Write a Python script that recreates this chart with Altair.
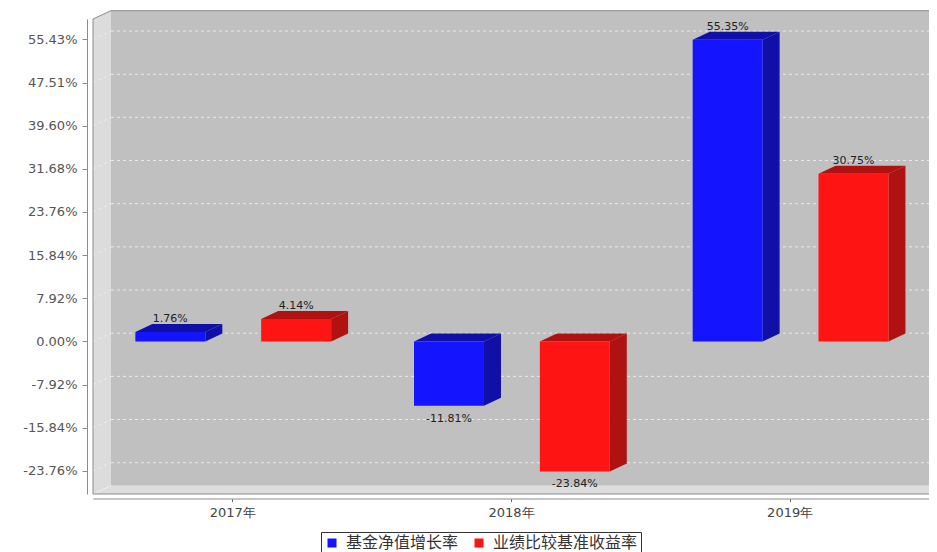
import json
import altair as alt
import pandas as pd

# ---------------- data ----------------
categories = ["2017年", "2018年", "2019年"]
series = ["基金净值增长率", "业绩比较基准收益率"]
fund_growth = [1.76, -11.81, 55.35]
benchmark = [4.14, -23.84, 30.75]
y_ticks = [55.43, 47.51, 39.60, 31.68, 23.76, 15.84, 7.92, 0.00, -7.92, -15.84, -23.76]

front_colors = ["#1414FF", "#FF1414"]
dark_colors = ["#1010A8", "#B01212"]

# ---------------- layout ----------------
W, H = 836, 475
YMIN, YMAX = -27.98, 59.16
NCAT = len(categories)
ux = W / NCAT
uy = H / (YMAX - YMIN)
WDX, WDY = 18 / ux, 8.3 / uy      # wall depth
BDX, BDY = 17 / ux, 8 / uy        # bar depth
HALF = 0.1255                     # half width of a bar front (band units)
OFFS = [-0.2225, 0.229]           # bar centre offsets per series

xs = alt.Scale(domain=[0, NCAT], nice=False, zero=False)
ys = alt.Scale(domain=[YMIN, YMAX], nice=False, zero=False)

cat_expr = json.dumps(categories, ensure_ascii=False) + "[floor(datum.value)]"
x_axis = alt.Axis(values=[i + 0.5 for i in range(NCAT)], labelExpr=cat_expr,
                  title=None, grid=False, offset=4.5, tickSize=3,
                  domainColor="#8C8C8C", tickColor="#666666",
                  labelColor="#444444", labelFont="DejaVu Sans",
                  labelFontSize=13, labelPadding=5, labelFlush=False)
y_axis = alt.Axis(values=y_ticks,
                  labelExpr="(datum.value < 0 ? '-' : '') + format(abs(datum.value), '.2f') + '%'",
                  title=None, grid=False, offset=6, tickSize=5,
                  domainColor="#8C8C8C", tickColor="#8C8C8C",
                  labelColor="#555555", labelFont="DejaVu Sans",
                  labelFontSize=13, labelPadding=5, labelOverlap=False,
                  labelFlush=False)

def X(f):
    return alt.X(f, type="quantitative", scale=xs, axis=x_axis)

def Y(f):
    return alt.Y(f, type="quantitative", scale=ys, stack=None, axis=y_axis)

# ---------------- frame ----------------
back = pd.DataFrame([{"x": WDX, "x2": NCAT + WDX + 1, "y": YMIN + WDY, "y2": YMAX + WDY}])
back_l = alt.Chart(back).mark_rect(fill="#C0C0C0").encode(
    x=X("x"), x2="x2", y=Y("y"), y2="y2")

lwall = pd.DataFrame([{"x": 0, "y": YMAX, "y2": YMIN},
                      {"x": WDX, "y": YMAX + WDY, "y2": YMIN + WDY}])
lwall_l = alt.Chart(lwall).mark_area(fill="#DCDCDC", interpolate="linear").encode(
    x=X("x"), y=Y("y"), y2="y2")

floor = pd.DataFrame([
    {"x": 0, "y": YMIN, "y2": YMIN},
    {"x": WDX, "y": YMIN + WDY, "y2": YMIN},
    {"x": NCAT, "y": YMIN + WDY, "y2": YMIN},
    {"x": NCAT + WDX, "y": YMIN + WDY, "y2": YMIN + WDY},
])
floor_l = alt.Chart(floor).mark_area(fill="#DDDDDD", interpolate="linear").encode(
    x=X("x"), y=Y("y"), y2="y2")

grid_rows = []
for t in y_ticks:
    grid_rows.append({"x": WDX, "x2": NCAT + WDX + 1, "y": t + WDY, "y2": t + WDY})
    grid_rows.append({"x": 0, "x2": WDX, "y": t, "y2": t + WDY})
grid_l = alt.Chart(pd.DataFrame(grid_rows)).mark_rule(
    color="#EEEEEE", strokeDash=[3, 3], strokeWidth=1, opacity=0.9).encode(
    x=X("x"), x2="x2", y=Y("y"), y2="y2")

edges = pd.DataFrame([
    {"x": 0, "x2": 0, "y": YMIN, "y2": YMAX},
    {"x": 0, "x2": WDX, "y": YMAX, "y2": YMAX + WDY},
    {"x": WDX, "x2": NCAT + WDX + 1, "y": YMAX + WDY, "y2": YMAX + WDY},
    {"x": 0, "x2": NCAT, "y": YMIN, "y2": YMIN},
    {"x": NCAT, "x2": NCAT + WDX, "y": YMIN, "y2": YMIN + WDY},
])
edges_l = alt.Chart(edges).mark_rule(color="#8C8C8C", strokeWidth=1).encode(
    x=X("x"), x2="x2", y=Y("y"), y2="y2")
inner_edges = pd.DataFrame([
    {"x": 0, "x2": WDX, "y": YMIN, "y2": YMIN + WDY},
])
inner_l = alt.Chart(inner_edges).mark_rule(color="#EFEFEF", strokeWidth=1).encode(
    x=X("x"), x2="x2", y=Y("y"), y2="y2")

# ---------------- bars ----------------
fronts, sides, tops, labels = [], [], [], []
for i, cat in enumerate(categories):
    for j, vals in enumerate([fund_growth, benchmark]):
        v = vals[i]
        c = i + 0.5 + OFFS[j]
        x0, x1 = c - HALF, c + HALF
        hi, lo = max(v, 0), min(v, 0)
        bid = f"{i}-{j}"
        fronts.append({"series": series[j], "x": x0, "x2": x1, "y": lo, "y2": hi})
        sides.append({"id": bid, "col": dark_colors[j], "x": x1, "y": hi, "y2": lo})
        sides.append({"id": bid, "col": dark_colors[j], "x": x1 + BDX, "y": hi + BDY, "y2": lo + BDY})
        tops.append({"id": bid, "col": dark_colors[j], "x": x0, "y": hi, "y2": hi})
        tops.append({"id": bid, "col": dark_colors[j], "x": x0 + BDX, "y": hi + BDY, "y2": hi})
        tops.append({"id": bid, "col": dark_colors[j], "x": x1, "y": hi + BDY, "y2": hi})
        tops.append({"id": bid, "col": dark_colors[j], "x": x1 + BDX, "y": hi + BDY, "y2": hi + BDY})
        ly = v + 10 / uy if v >= 0 else v - 16 / uy
        labels.append({"x": c, "y": ly, "t": f"{v:.2f}%"})

side_l = alt.Chart(pd.DataFrame(sides)).mark_area(interpolate="linear").encode(
    x=X("x"), y=Y("y"), y2="y2", detail="id:N",
    fill=alt.Fill("col:N", scale=None))
top_l = alt.Chart(pd.DataFrame(tops)).mark_area(interpolate="linear").encode(
    x=X("x"), y=Y("y"), y2="y2", detail="id:N",
    fill=alt.Fill("col:N", scale=None))

front_l = alt.Chart(pd.DataFrame(fronts)).mark_rect().encode(
    x=X("x"), x2="x2", y=Y("y"), y2="y2",
    color=alt.Color("series:N",
                    scale=alt.Scale(domain=series, range=front_colors),
                    legend=alt.Legend(title=None, orient="none", legendX=228, legendY=513,
                                      direction="horizontal", symbolType="square",
                                      symbolSize=81, symbolStrokeWidth=0,
                                      labelFont="Noto Sans CJK SC", labelFontSize=16,
                                      labelColor="#333333", strokeColor="#333333",
                                      fillColor="white", padding=3, columnPadding=12,
                                      labelOffset=6)),
)

label_l = alt.Chart(pd.DataFrame(labels)).mark_text(
    font="DejaVu Sans", fontSize=11, color="#222222", align="center", baseline="alphabetic"
).encode(x=X("x"), y=Y("y"), text="t:N")

chart = alt.layer(
    back_l, lwall_l, floor_l, grid_l, inner_l, edges_l, side_l, top_l, front_l, label_l
).properties(
    width=W, height=H,
    autosize=alt.AutoSizeParams(type="none"),
    padding={"left": 85, "top": 11, "right": 0, "bottom": 58},
).configure_view(stroke=None)

chart.save("out.html", embed_options={"renderer": "svg", "actions": False})
